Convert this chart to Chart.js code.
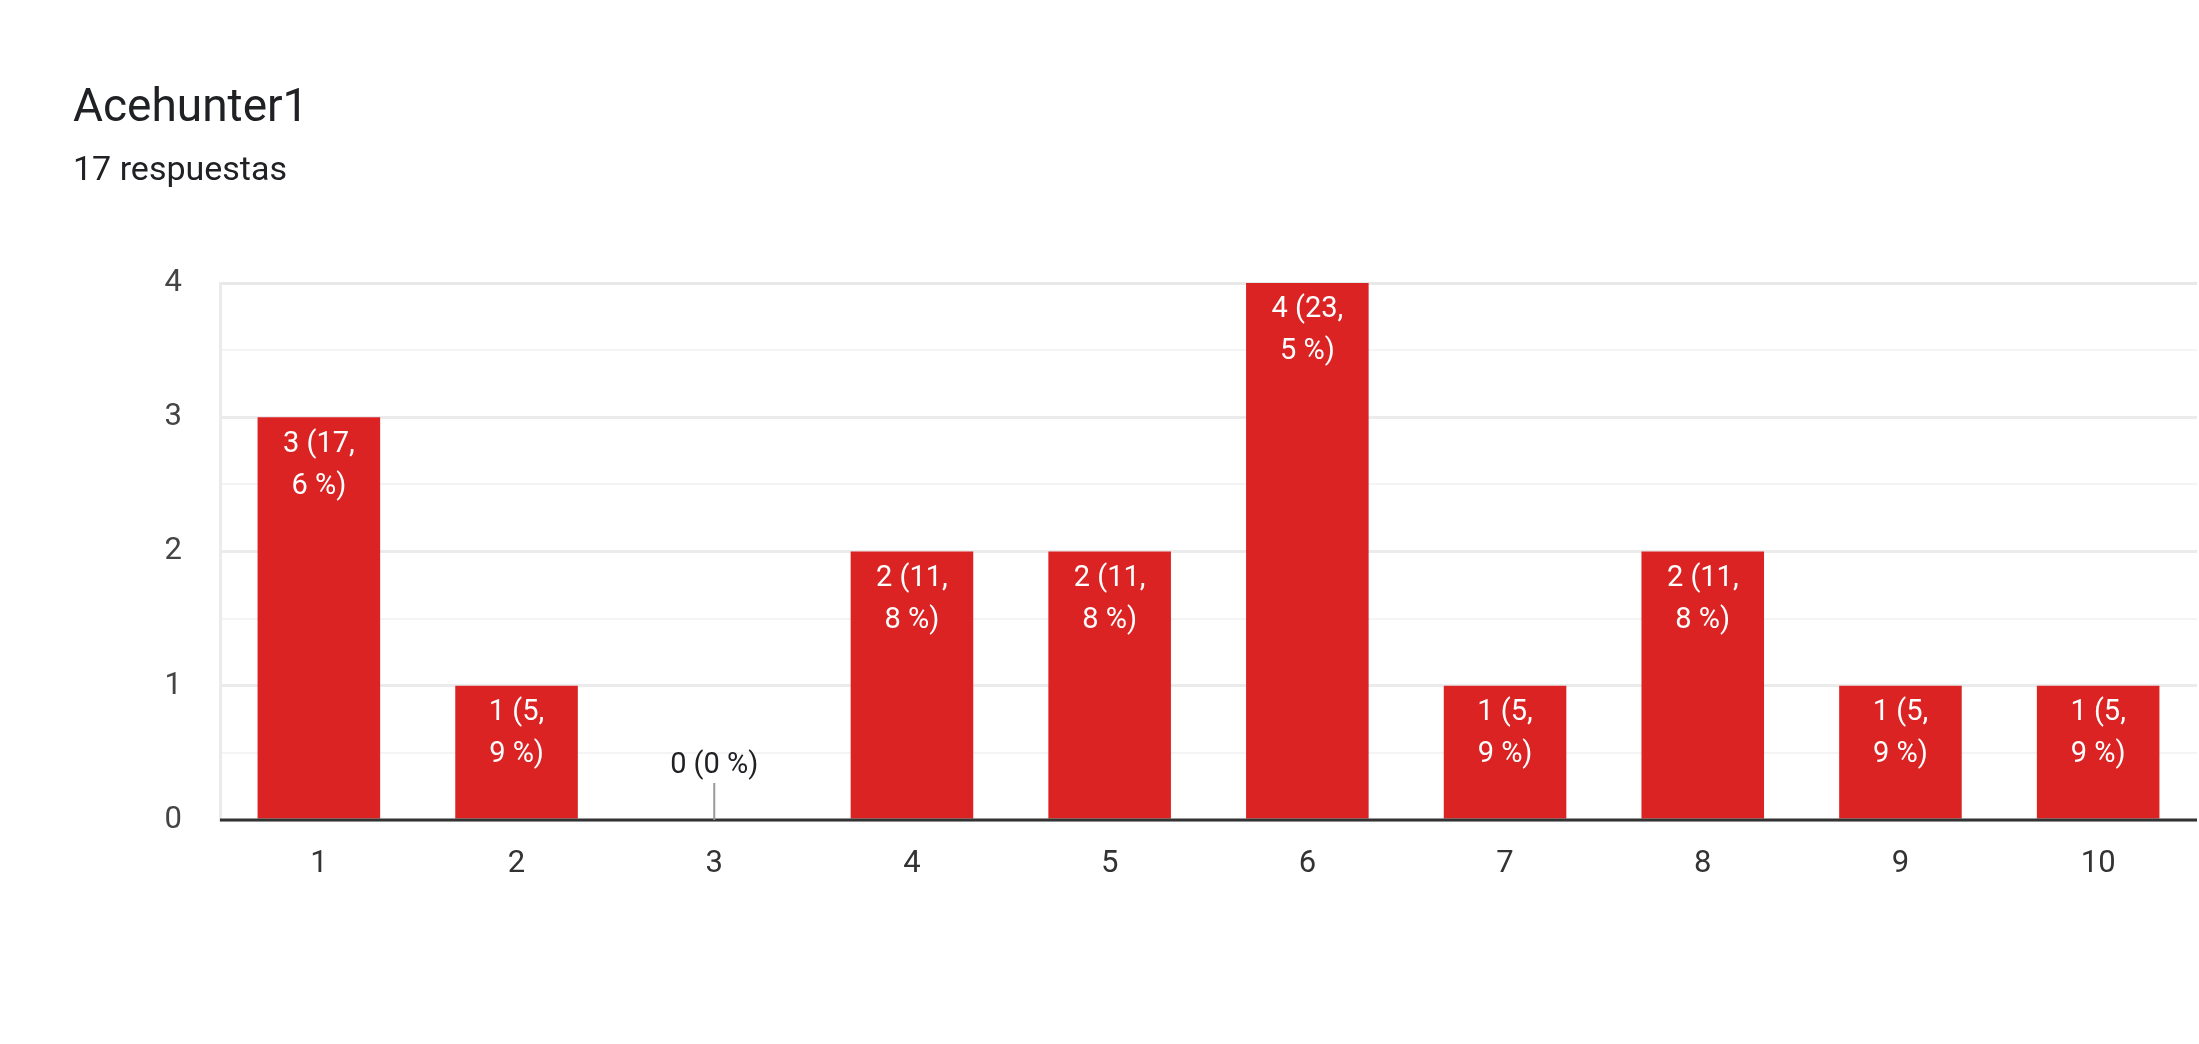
<!DOCTYPE html>
<html><head><meta charset="utf-8">
<script src="https://cdn.jsdelivr.net/npm/chart.js@4"></script>
<style>html,body{margin:0;padding:0;background:#fff}#w{position:relative;width:2199px;height:1044px}</style>
</head><body><div id="w"><canvas id="c" width="2199" height="1044"></canvas></div>
<script>
const titleText = "Acehunter1";
const subtitleText = "17 respuestas";
const categories = ["1","2","3","4","5","6","7","8","9","10"];
const counts = [3,1,0,2,2,4,1,2,1,1];
const pctLabels = [["3 (17,","6 %)"],["1 (5,","9 %)"],["0 (0 %)"],["2 (11,","8 %)"],["2 (11,","8 %)"],["4 (23,","5 %)"],["1 (5,","9 %)"],["2 (11,","8 %)"],["1 (5,","9 %)"],["1 (5,","9 %)"]];
const yTicks = [0,1,2,3,4];
const FONT = "Roboto, 'Noto Sans', sans-serif";

const overlay = {
  id:'overlay',
  afterDatasetsDraw(chart){
    const ctx = chart.ctx, x = chart.scales.x, y = chart.scales.y;
    ctx.save();
    // baseline axis
    ctx.strokeStyle = '#333'; ctx.lineWidth = 3;
    ctx.beginPath(); ctx.moveTo(chart.chartArea.left, y.getPixelForValue(0)); ctx.lineTo(chart.chartArea.right, y.getPixelForValue(0)); ctx.stroke();
    ctx.font = "29px " + FONT; ctx.textAlign = 'center'; ctx.textBaseline = 'middle';
    counts.forEach((v,i)=>{
      const cx = x.getPixelForValue(i);
      const lines = pctLabels[i];
      if (v === 0) {
        const y0 = y.getPixelForValue(0);
        ctx.strokeStyle = '#999'; ctx.lineWidth = 2;
        ctx.beginPath(); ctx.moveTo(cx, y0); ctx.lineTo(cx, y0 - 37); ctx.stroke();
        ctx.fillStyle = '#202124';
        ctx.fillText(lines[0], cx, y0 - 54);
      } else {
        const top = y.getPixelForValue(v);
        ctx.fillStyle = '#ffffff';
        lines.forEach((t,k)=> ctx.fillText(t, cx, top + 27 + k*42));
      }
    });
    // titles
    ctx.textAlign = 'left'; ctx.textBaseline = 'alphabetic'; ctx.fillStyle = '#202124';
    ctx.font = "46px " + FONT; ctx.fillText(titleText, 73, 121);
    ctx.font = "34px " + FONT; ctx.fillText(subtitleText, 73, 180);
    ctx.restore();
  }
};

new Chart(document.getElementById('c'), {
  type:'bar',
  data:{ labels: categories, datasets:[{ data: counts, backgroundColor:'#db2323', barPercentage:0.62, categoryPercentage:1.0 }]},
  options:{
    responsive:false, animation:false,
    layout:{ padding:{ top:283, right:2, bottom:0, left:0 } },
    plugins:{ legend:{display:false}, tooltip:{enabled:false} },
    scales:{
      x:{
        grid:{ display:false, drawTicks:false },
        border:{ display:false },
        ticks:{ color:'#333', font:{ family:FONT, size:31 }, padding:26 },
        afterFit(s){ s.height = 224; }
      },
      y:{
        min:0, max:4,
        afterBuildTicks(s){ s.ticks = [0,0.5,1,1.5,2,2.5,3,3.5,4].map(v=>({value:v})); },
        grid:{ drawTicks:false, color(c){ const v=c.tick.value; if (v===4) return '#e8e8e8'; return Number.isInteger(v) ? '#ebebeb' : '#f4f4f4'; }, lineWidth(c){ return Number.isInteger(c.tick.value)?3:2; } },
        border:{ display:true, color:'#ebebeb', width:3 },
        ticks:{ color:'#444', font:{ family:FONT, size:31 }, padding:38, callback(v){ return yTicks.includes(v) ? String(v) : ''; } },
        afterFit(s){ s.width = 220; }
      }
    }
  },
  plugins:[overlay]
});
</script></body></html>
